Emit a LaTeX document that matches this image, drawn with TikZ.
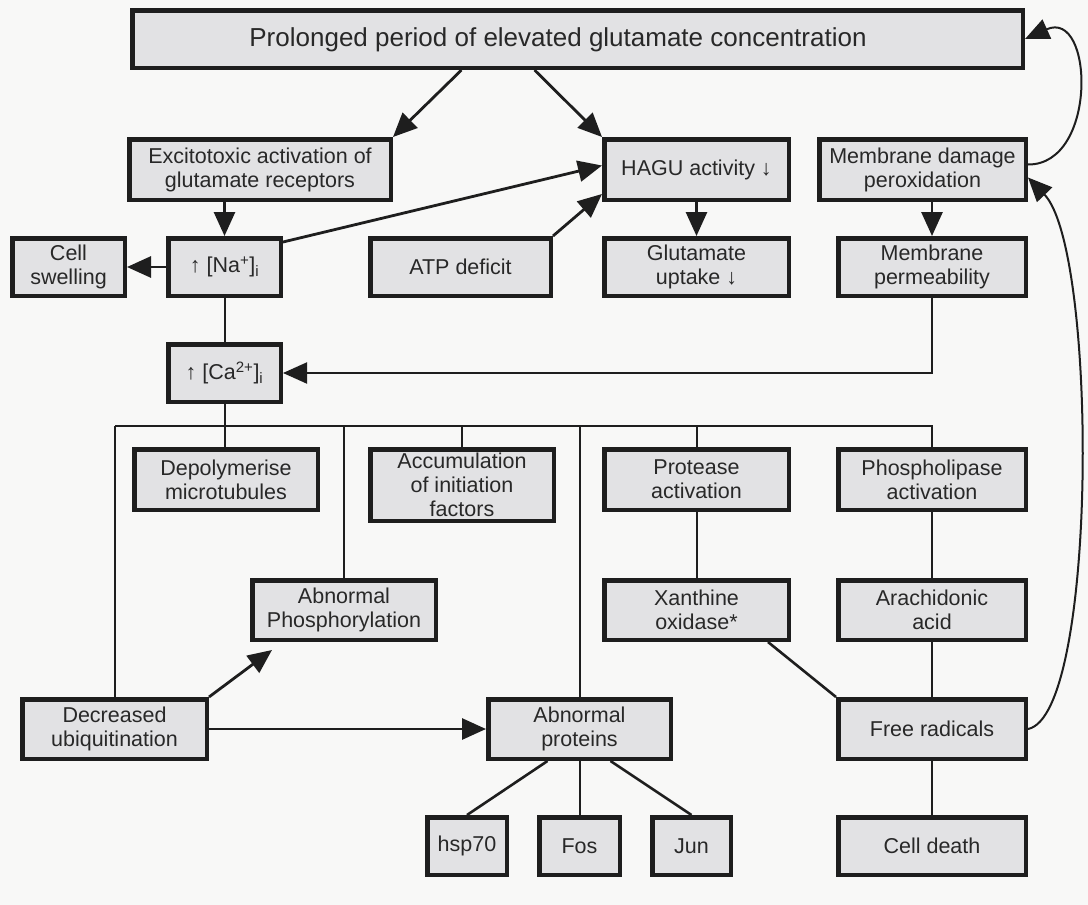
\documentclass[tikz,border=0pt]{standalone}
\usepackage{fontspec}
\setmainfont{Liberation Sans}
\usetikzlibrary{arrows.meta}
\definecolor{boxfill}{RGB}{226,226,228}
\definecolor{ink}{RGB}{30,30,30}
\definecolor{txt}{RGB}{40,40,40}
\definecolor{bg}{RGB}{248,248,247}
\newcommand\bx[6]{\node[box, minimum width={#4-#2-4.5}, minimum height={#5-#3-4.5}] (#1) at ({(#2+#4)/2},{(#3+#5)/2}) {#6};}
\begin{document}
\begin{tikzpicture}[x=1pt,y=-1pt,
  box/.style={draw=ink, line width=4.5pt, fill=boxfill, text=txt, align=center, inner sep=0pt,
    font=\fontsize{21.5}{24}\selectfont},
  tip/.style={-{Triangle[length=24pt,width=21pt]}},
  arr/.style={draw=ink, line width=2.8pt, tip},
  ln/.style={draw=ink, line width=2.6pt},
  thinln/.style={draw=ink, line width=2pt},
]
\fill[bg] (0,0) rectangle (1088,905);
\useasboundingbox (0,0) rectangle (1088,905);

\bx{top}{130}{8}{1025}{70}{}
\node[text=txt, font=\fontsize{26}{28}\selectfont] (toptxt) at (558,40) {Prolonged period of elevated glutamate concentration};
\bx{exc}{127}{137}{393}{202}{Excitotoxic activation of\\glutamate receptors}
\bx{hagu}{602}{137}{791}{202}{HAGU activity ↓}
\bx{memdam}{817}{137}{1028}{202}{Membrane damage\\peroxidation}
\bx{cellsw}{10}{236}{127}{298}{Cell\\swelling}
\bx{na}{166}{236}{283}{298}{↑ [Na\textsuperscript{+}]\textsubscript{i}}
\bx{atp}{368}{236}{553}{298}{ATP deficit}
\bx{gu}{602}{236}{791}{298}{Glutamate\\uptake ↓}
\bx{memperm}{836}{236}{1028}{298}{Membrane\\permeability}
\bx{ca}{166}{342}{283}{404}{↑ [Ca\textsuperscript{2+}]\textsubscript{i}}
\bx{depol}{132}{447}{320}{512}{Depolymerise\\microtubules}
\bx{accum}{368}{447}{556}{523}{\fontsize{21.5}{20.5}\selectfont Accumulation\\of initiation\\factors}
\bx{protease}{602}{447}{791}{512}{Protease\\activation}
\bx{phospho}{836}{447}{1028}{512}{Phospholipase\\activation}
\bx{abphos}{250}{578}{438}{642}{Abnormal\\Phosphorylation}
\bx{xanth}{602}{578}{791}{642}{Xanthine\\oxidase*}
\bx{arach}{836}{578}{1028}{642}{Arachidonic\\acid}
\bx{decub}{20}{697}{209}{761}{Decreased\\ubiquitination}
\bx{abprot}{486}{697}{673}{761}{Abnormal\\proteins}
\bx{freerad}{836}{697}{1028}{761}{Free radicals}
\bx{hsp70}{425}{815}{509}{877}{hsp70}
\bx{fos}{537}{815}{622}{877}{Fos}
\bx{jun}{650}{815}{733}{877}{Jun}
\bx{celldeath}{836}{815}{1028}{877}{Cell death}

\coordinate (busL) at (115,426);

% top arrows
\draw[arr] ([xshift=-116pt]top.south) -- (exc.north east);
\draw[arr] ([xshift=-43pt]top.south) -- (hagu.north west);
% row 2
\draw[arr] (na.north |- exc.south) -- (na.north);
\draw[arr] (na.west) -- (cellsw.east);
\draw[arr] ([yshift=-6pt]na.north east) -- ([yshift=4pt]hagu.west);
\draw[arr] (atp.north east) -- ([yshift=8pt]hagu.south west);
\draw[arr] (hagu.south) -- (gu.north);
\draw[arr] (memperm.north |- memdam.south) -- (memperm.north);
\draw[thinln, tip] (memperm.south) |- (ca.east);
\draw[thinln] (na.south) -- (ca.north);
% bus
\draw[thinln] (ca.south) -- (ca.south |- depol.north);
\draw[thinln] (busL) -- (busL -| phospho.north) -- (phospho.north);
\draw[thinln] (accum.north |- busL) -- (accum.north);
\draw[thinln] (protease.north |- busL) -- (protease.north);
\draw[thinln] (abphos.north |- busL) -- (abphos.north);
\draw[thinln] (abprot.north |- busL) -- (abprot.north);
\draw[thinln] (busL) -- (busL |- decub.north);
% lower
\draw[thinln] (protease.south) -- (xanth.north);
\draw[thinln] (phospho.south) -- (arach.north);
\draw[thinln] (arach.south) -- (freerad.north);
\draw[thinln] (freerad.south) -- (celldeath.north);
\draw[ln] ([xshift=-23pt]xanth.south east) -- (freerad.north west);
\draw[arr] (decub.north east) -- ([xshift=22pt,yshift=-8pt]abphos.south west);
\draw[arr] (decub.east) -- (abprot.west);
\draw[ln] ([xshift=-32pt]abprot.south) -- (hsp70.north);
\draw[thinln] (abprot.south) -- (fos.north);
\draw[ln] ([xshift=31pt]abprot.south) -- (jun.north);
% curves
\draw[thinln, tip] ([yshift=5pt]memdam.east) .. controls (1098,165) and (1094,8) .. (top.east);
\draw[thinln, tip] (freerad.east) .. controls (1098,715) and (1098,250) .. ([yshift=-8pt]memdam.east);
\end{tikzpicture}
\end{document}
